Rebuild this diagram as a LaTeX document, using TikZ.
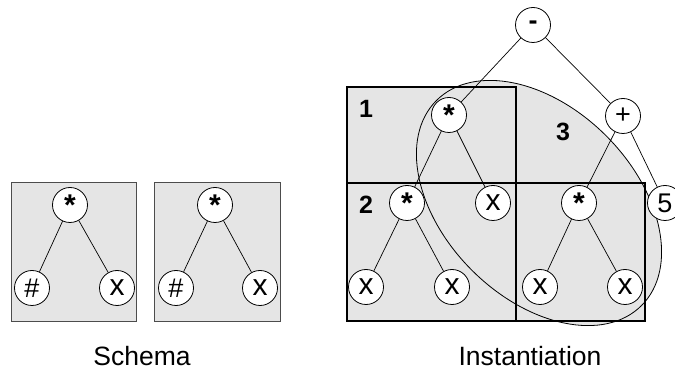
\documentclass[tikz,border=0pt]{standalone}
\usepackage{fontspec}
\setmainfont{Liberation Sans}
\usepackage{tikz}
\usetikzlibrary{calc}

\definecolor{boxgray}{gray}{0.9}

\tikzset{
	tnode/.style={circle, draw, fill=white, line width=0.8pt, minimum size=35pt,
		inner sep=0pt, font=\fontsize{27}{27}\selectfont},
	leaf/.style={tnode, font=\fontsize{30}{30}\selectfont},
	star/.style={tnode, font=\bfseries\fontsize{30}{30}\selectfont},
	region/.style={fill=boxgray, draw=black, line width=1.1pt},
	schemabox/.style={fill=boxgray, draw=black!70, line width=1pt},
	edge/.style={line width=0.7pt},
	tag/.style={font=\bfseries\fontsize{25}{25}\selectfont},
	caption/.style={font=\fontsize{26.5}{26.5}\selectfont}
}

\begin{document}
\begin{tikzpicture}[x=1pt, y=-1pt]

% frame %{{{2

	\useasboundingbox (0,0) rectangle (675,371);

% parameters %{{{2

	\def\rx{145pt}
	\def\ry{95pt}
	\def\tilt{-45}

% schema boxes %{{{2

	\draw[schemabox] (11,183) rectangle (136,322);
	\draw[schemabox] (154,183) rectangle (280,322);

	\node[star]  (SaM) at (70,205) {*};
	\node[tnode] (SaH) at (32,288) {\#};
	\node[leaf]  (SaX) at (117,288) {x};

	\node[star]  (SbM) at (215,205) {*};
	\node[tnode] (SbH) at (176,288) {\#};
	\node[leaf]  (SbX) at (260,288) {x};

	\draw[edge] (SaM) -- (SaH);
	\draw[edge] (SaM) -- (SaX);
	\draw[edge] (SbM) -- (SbH);
	\draw[edge] (SbM) -- (SbX);

% instantiation regions %{{{2

	\coordinate (E) at (539,203);
	\fill[boxgray, rotate around={\tilt:(E)}] (E) ellipse [x radius=\rx, y radius=\ry];

	\draw[region] (347,87) rectangle (516,183);
	\draw[region] (347,183) rectangle (516,321);
	\draw[region] (516,183) rectangle (645,321);

	\draw[line width=0.8pt, rotate around={\tilt:(E)}] (E) ellipse [x radius=\rx, y radius=\ry];

	\node[tag] (T1) at (366,109) {1};
	\node[tag] (T2) at (366,205) {2};
	\node[tag] (T3) at (563,132) {3};

% instantiation tree %{{{2

	\node[tnode] (Sub) at (533,25)  {\textbf{-}};
	\node[star]  (M1)  at (449,115) {*};
	\node[tnode] (Add) at (623,116) {+};
	\node[star]  (M2)  at (407,203) {*};
	\node[leaf]  (X1)  at (493,203) {x};
	\node[star]  (M3)  at (579,203) {*};
	\node[tnode] (C5)  at (665,203) {5};
	\node[leaf]  (X2)  at (366,287) {x};
	\node[leaf]  (X3)  at (452,287) {x};
	\node[leaf]  (X4)  at (540,287) {x};
	\node[leaf]  (X5)  at (625,287) {x};

	\foreach \a/\b in {Sub/M1, Sub/Add, M1/M2, M1/X1, Add/M3, Add/C5,
		M2/X2, M2/X3, M3/X4, M3/X5} {
		\draw[edge] (\a) -- (\b);
	}

% captions %{{{2

	\node[caption, anchor=base] (CapS) at (142,366) {Schema};
	\node[caption, anchor=base] (CapI) at (530,366) {Instantiation};

% closing %{{{2

\end{tikzpicture}
\end{document}
